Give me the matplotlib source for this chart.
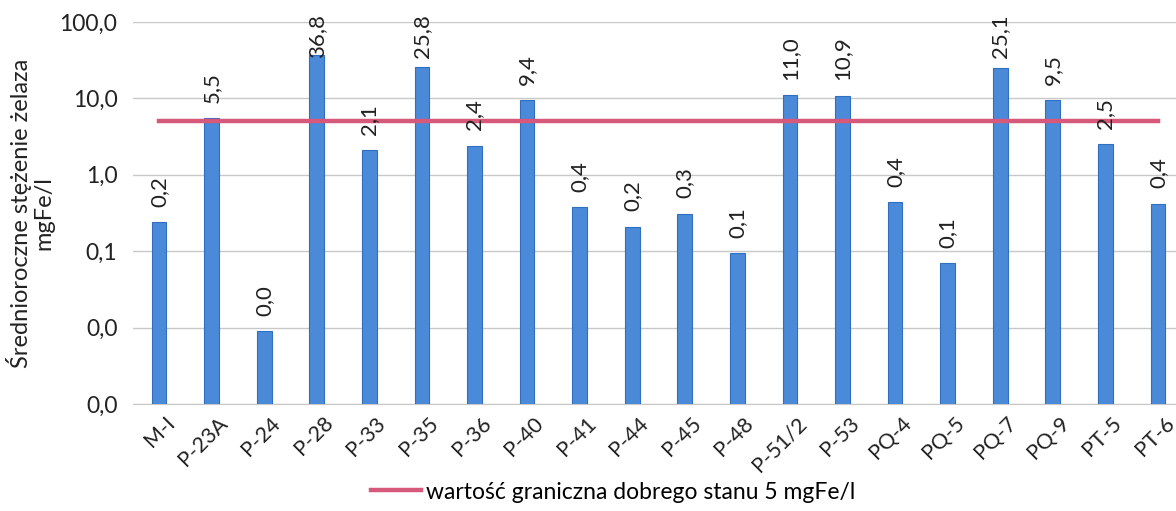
import matplotlib
matplotlib.use("Agg")
import matplotlib.pyplot as plt
from matplotlib.ticker import FixedLocator, FuncFormatter

categories = ["M-I", "P-23A", "P-24", "P-28", "P-33", "P-35", "P-36", "P-40", "P-41", "P-44",
              "P-45", "P-48", "P-51/2", "P-53", "PQ-4", "PQ-5", "PQ-7", "PQ-9", "PT-5", "PT-6"]
values = [0.24, 5.5, 0.009, 36.8, 2.1, 25.8, 2.4, 9.4, 0.38, 0.21,
          0.31, 0.095, 11.0, 10.9, 0.44, 0.07, 25.1, 9.5, 2.5, 0.42]
limit_value = 5.0
limit_label = "wartość graniczna dobrego stanu 5 mgFe/l"
y_ticks = [0.001, 0.01, 0.1, 1, 10, 100]
y_label = "Średnioroczne stężenie żelaza\nmgFe/l"

plt.rcParams['font.family'] = ['Lato', 'DejaVu Sans']

W, H = 1176, 511
fig = plt.figure(figsize=(W/100, H/100), dpi=100)
ax = fig.add_axes([132.7/W, 1-404/H, (1184.3-132.7)/W, (404-22)/H])

x = list(range(len(categories)))
ax.bar(x, values, width=0.28, color='#4a8ad8', edgecolor='#2f6fc0', linewidth=0.8, zorder=3)
ax.plot(x, [limit_value]*len(x), color='#d6587a', linewidth=3.2, zorder=4, label=limit_label)

ax.set_yscale('log')
ax.set_ylim(0.001, 100)
ax.set_xlim(-0.5, len(categories)-0.5)
ax.yaxis.set_major_locator(FixedLocator(y_ticks))
ax.yaxis.set_minor_locator(FixedLocator([]))
ax.yaxis.set_major_formatter(FuncFormatter(lambda v, p: f"{v:.1f}".replace('.', ',')))
ax.grid(axis='y', color='#c8c8c8', linewidth=1.0, zorder=0)
for s in ['top', 'right', 'left']:
    ax.spines[s].set_visible(False)
ax.spines['bottom'].set_color('#c8c8c8')
ax.tick_params(axis='y', length=0, labelsize=16.5, pad=11, colors='#222222')
ax.set_xticks(x)
ax.tick_params(axis='x', length=0, labelbottom=False)
ax.set_ylabel(y_label, fontsize=17, color='#222222', labelpad=4, linespacing=1.05)

# category labels, rotated 45 degrees, right end slightly right of the bar (as in Excel)
for xi, c in zip(x, categories):
    ax.annotate(c, (xi, 0), xycoords=('data', 'axes fraction'), xytext=(9.5, -11.5),
                textcoords='offset points', rotation=45, rotation_mode='anchor',
                ha='right', va='center', fontsize=15.5, color='#222222')

anns = []
for xi, v in zip(x, values):
    t = ax.annotate(f"{v:.1f}".replace('.', ','), (xi, v), xytext=(0, 11), textcoords='offset points',
                    rotation=90, ha='center', va='bottom', fontsize=16, color='#222222', zorder=5)
    anns.append(t)

fig.legend(loc='center', bbox_to_anchor=(0.521, 19/H), frameon=False, fontsize=16.5,
           handlelength=2.2, handletextpad=0.2)

# keep data labels inside the figure (Excel pulls them down when they don't fit)
fig.canvas.draw()
r = fig.canvas.get_renderer()
for t in anns:
    bb = t.get_window_extent(r)
    if bb.y1 > H - 14:
        over_px = bb.y1 - (H - 14)
        t.xyann = (0, 11 - over_px * 72 / 100)

fig.savefig('out.png', dpi=100)
